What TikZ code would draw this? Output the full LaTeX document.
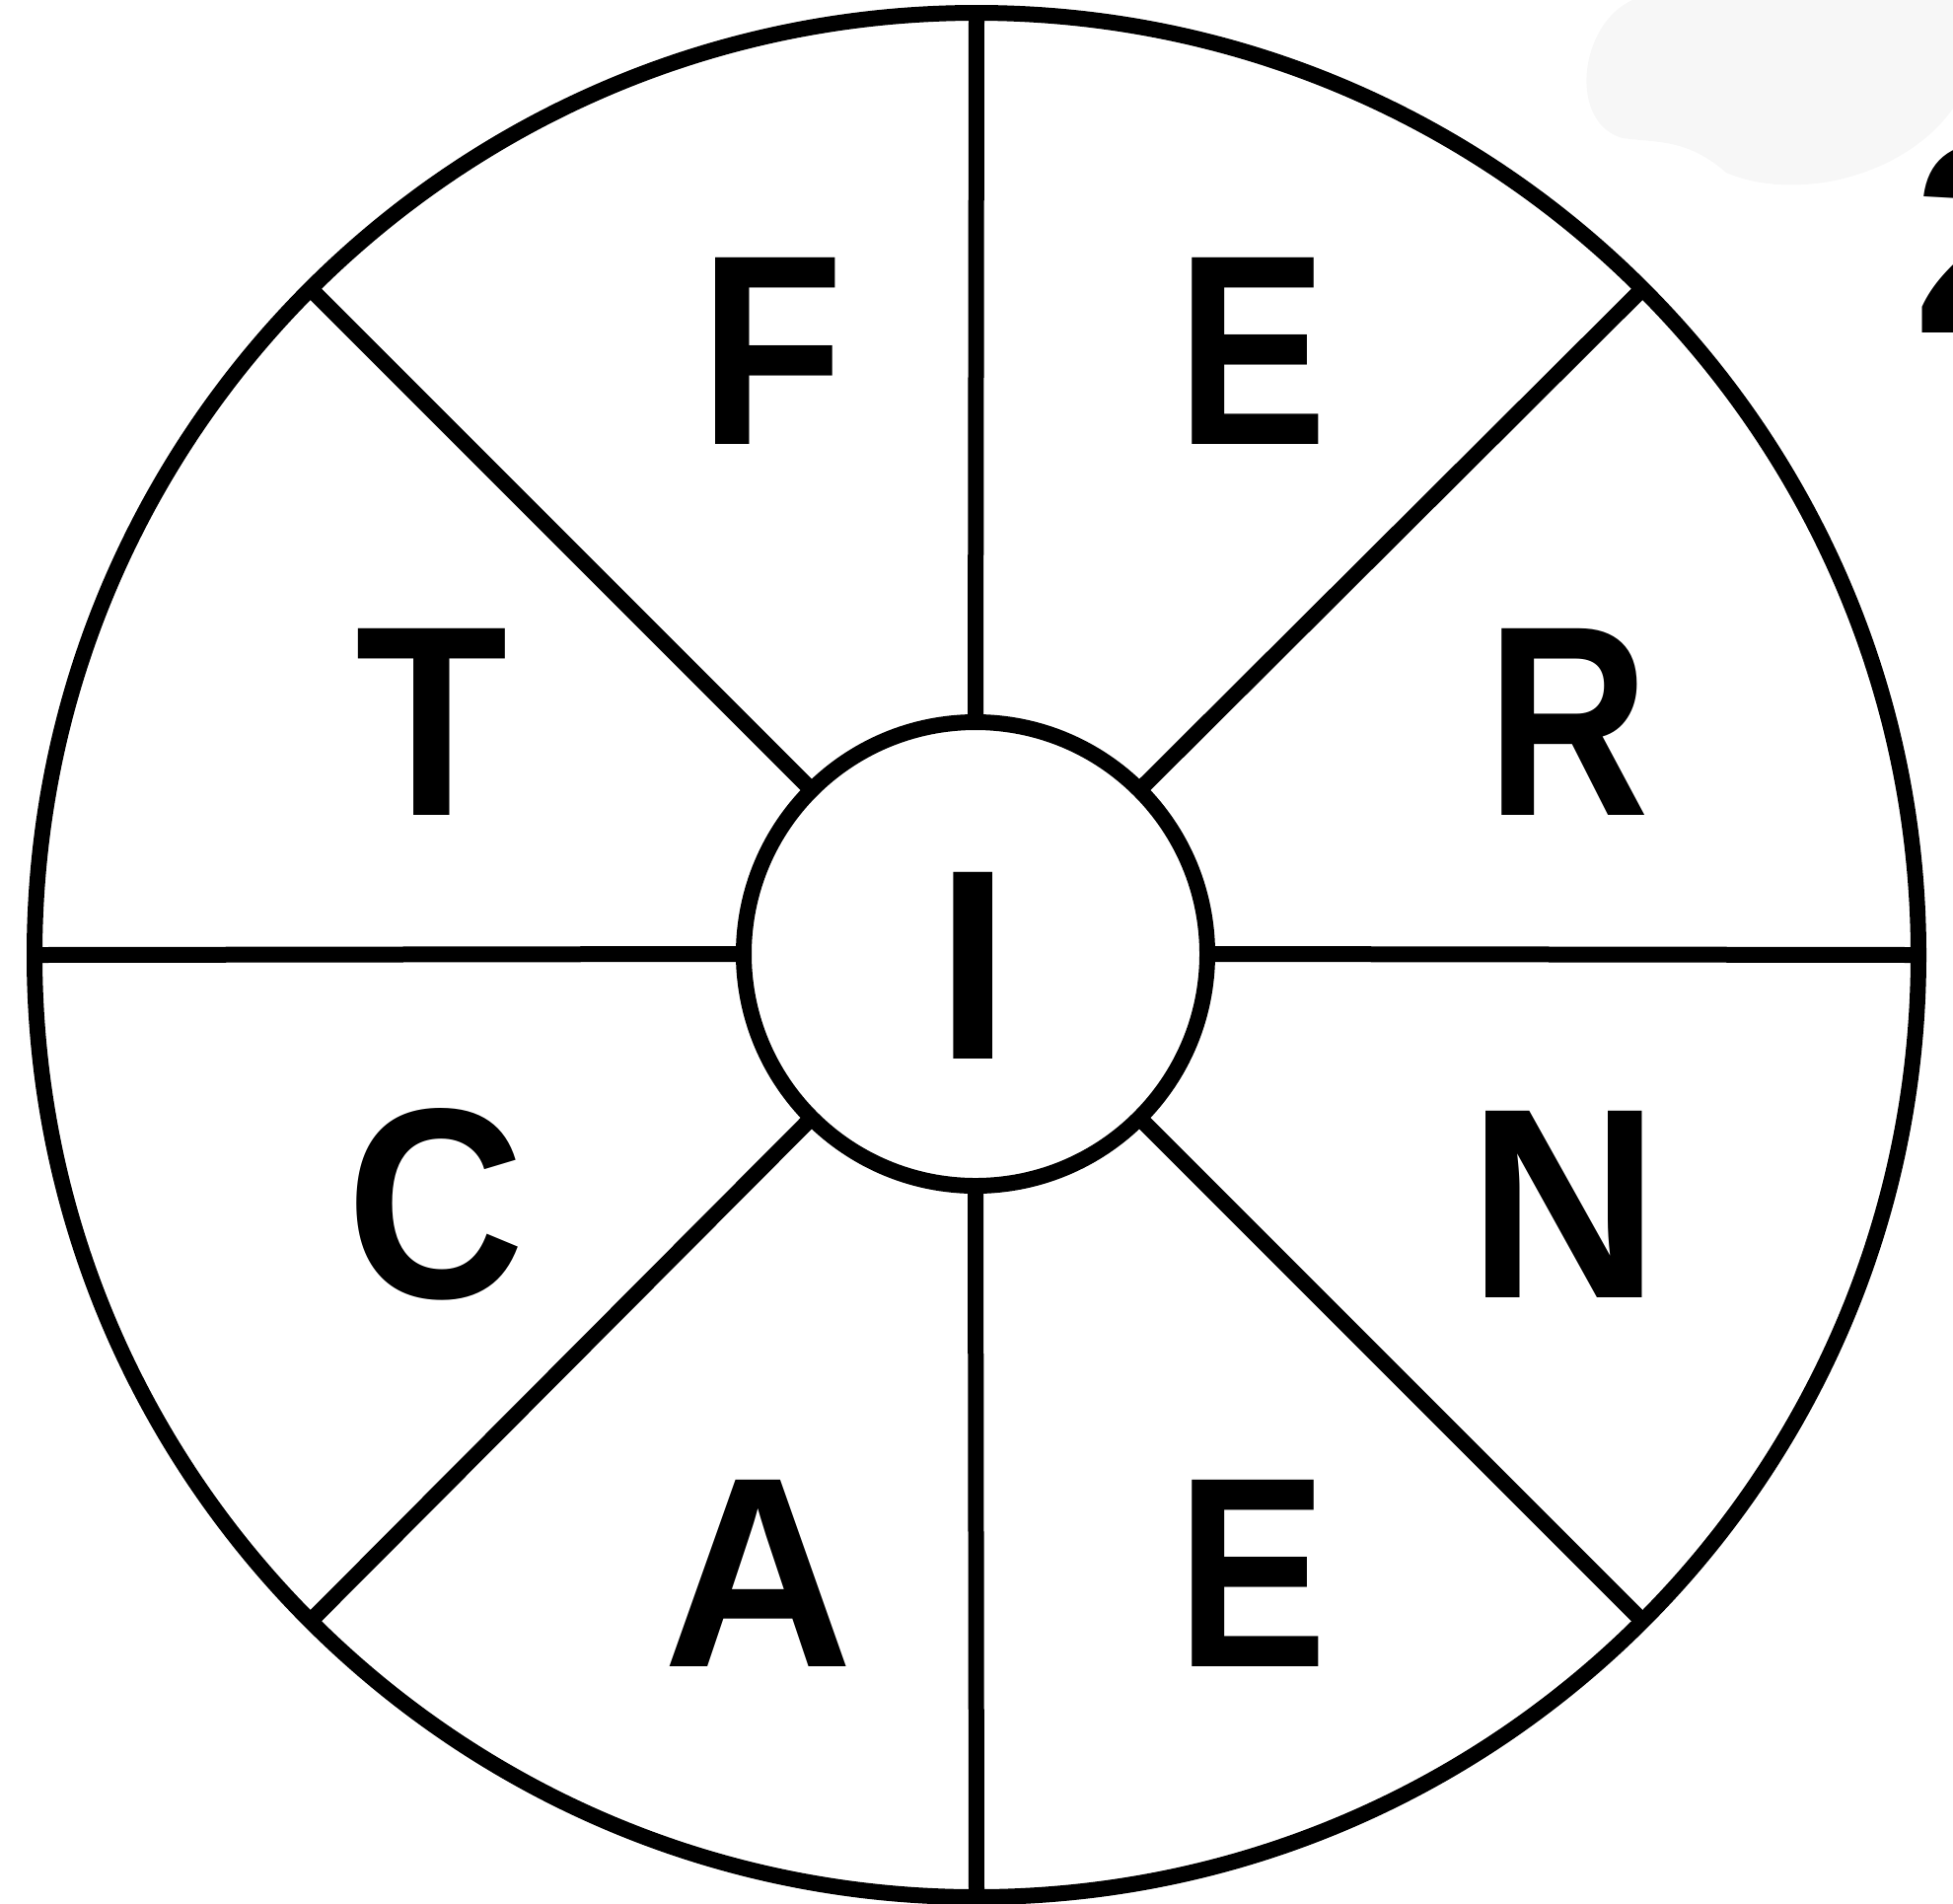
\documentclass[tikz,border=0pt]{standalone}
\usepackage{fontspec}
\usepackage{graphicx}
\setmainfont{Liberation Sans}
\usetikzlibrary{positioning}

% squeeze a letter sideways
\newcommand{\narrow}[2]{\scalebox{#1}[1]{#2}}

\begin{document}
\begin{tikzpicture}[x=0.5pt, y=-0.5pt,
    ring/.style={draw, circle, line width=8pt, inner sep=0pt, outer sep=0pt},
    spoke/.style={line width=8pt},
    letter/.style={font=\fontsize{137.5}{137.5}\selectfont\bfseries, inner sep=0pt}]
\useasboundingbox (0,0) rectangle (1980,1929);
% faint smudge top right
\fill[black!3] (1655,0) .. controls (1600,25) and (1590,125) .. (1645,140)
    .. controls (1680,145) and (1710,140) .. (1750,175)
    .. controls (1820,205) and (1930,180) .. (1980,110) -- (1980,0) -- cycle;
\node[letter, anchor=west] (two) at (1939,241) {2};

\node[ring, minimum size=955pt] (wheel) at (990,968) {};
\node[ring, minimum size=235pt] (hub) at (989,967) {};
\foreach \a in {0,45,...,315}
    \draw[spoke] (hub.\a) -- (wheel.\a);

\node[letter] (l-i) at (987,979) {I};
\node[letter] (l-f) at (783,356) {\narrow{0.87}{F}};
\node[letter] (l-e1) at (1270,356) {\narrow{0.83}{E}};
\node[letter] (l-t) at (438,732) {\narrow{0.92}{T}};
\node[letter] (l-r) at (1590,732) {\narrow{0.83}{R}};
\node[letter] (l-c) at (442,1221) {\narrow{0.91}{C}};
\node[letter] (l-n) at (1586,1221) {\narrow{0.98}{N}};
\node[letter] (l-a) at (769,1595) {\narrow{0.97}{A}};
\node[letter] (l-e2) at (1270,1595) {\narrow{0.83}{E}};
\end{tikzpicture}
\end{document}
